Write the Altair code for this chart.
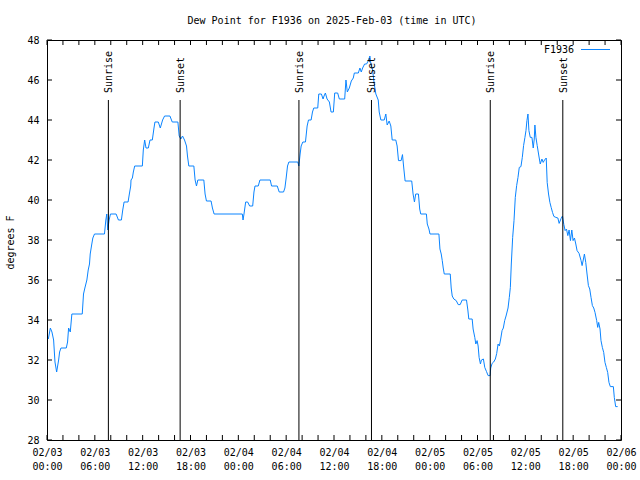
import altair as alt
import pandas as pd

# ---- data ----
hours = [0.17, 0.42, 0.62, 0.83, 1.0, 1.21, 1.46, 1.58, 1.75, 2.42, 2.58, 2.71, 2.92, 3.12, 4.42, 4.58, 4.75, 5.0, 5.17, 5.33,
         5.42, 5.62, 5.75, 5.96, 7.21, 7.38, 7.5, 7.62, 7.79, 7.96, 8.67, 8.96, 9.33, 9.5, 9.67, 10.17, 10.33, 10.5, 10.54, 10.71,
         10.83, 11.0, 11.96, 12.08, 12.25, 12.42, 12.71, 12.92, 13.21, 13.42, 13.54, 13.96, 14.21, 14.5, 14.75, 15.42, 15.71, 16.42, 16.58, 16.79,
         17.0, 17.25, 17.5, 17.62, 17.79, 18.42, 18.58, 18.75, 18.92, 19.67, 19.83, 20.0, 20.58, 20.75, 20.96,
         24.5, 24.59, 24.71, 24.92, 25.17, 25.42, 25.8, 25.96, 26.09, 26.5, 26.71, 28.0, 28.17, 28.88, 29.13, 29.67, 29.84, 30.0, 30.17, 30.34,
         31.46, 31.59, 31.75, 31.88, 32.09, 32.42, 32.63, 32.8, 33.13, 33.3, 33.46, 33.96, 34.09, 34.42, 34.63, 34.75, 34.92, 35.13, 35.42, 35.63,
         35.92, 36.09, 36.46, 36.67, 37.34, 37.5, 37.67, 37.92, 38.17, 38.42, 38.55, 39.05, 39.25, 39.42, 39.59, 39.84, 40.09, 40.34, 40.5, 40.63,
         40.84, 41.05, 41.25, 41.55, 41.67, 41.88, 42.3, 42.5, 42.67, 42.92, 43.13, 43.3, 43.75, 43.92, 44.09, 44.42, 44.59, 44.75, 44.92, 45.75,
         45.92, 46.09, 46.25, 46.59, 46.75, 46.88, 47.59,
         47.7, 47.91, 48.04, 49.16, 49.29, 49.45, 49.58, 49.7, 49.83, 50.58, 50.7, 50.83, 51.03, 51.33, 51.58, 51.83, 52.08, 52.62, 52.79, 52.91,
         53.33, 53.45, 53.66, 53.79, 53.95, 54.08, 54.2, 54.37, 54.49, 54.74, 54.91, 55.12, 55.33, 55.58, 55.66, 55.83, 56.03, 56.24, 56.41, 56.58,
         56.74, 56.91, 57.08, 57.24, 57.41, 57.58, 57.83, 57.99, 58.12, 58.24, 58.41, 58.58, 58.74, 58.91, 59.08, 59.24, 59.45, 59.62, 59.78, 59.95,
         60.08, 60.2, 60.33, 60.45, 60.62, 60.83, 60.99, 61.12, 61.2, 61.33, 61.49, 61.7, 61.87, 62.08, 62.24, 62.41, 62.62, 62.74, 62.91, 63.08,
         63.24, 63.41, 63.58, 63.83, 64.08, 64.24, 64.49, 64.66, 64.83, 64.99, 65.16, 65.33, 65.49, 65.66, 65.83, 65.99, 66.16, 66.33, 66.49, 66.74,
         66.99, 67.12, 67.29, 67.41, 67.58, 67.74, 67.91, 68.08, 68.24, 68.41, 68.58, 68.74, 68.95, 69.08, 69.2, 69.37, 69.49, 69.66, 69.83, 69.99,
         70.16, 70.33, 70.49, 70.66, 71.04, 71.16, 71.33, 71.58]
dewpoint = [33.05, 33.6, 33.4, 33.0, 31.9, 31.4, 32.0, 32.4, 32.6, 32.6, 32.9, 33.6, 33.4, 34.3, 34.3, 35.3, 35.6, 36.0, 36.5, 36.8,
            37.3, 37.8, 38.1, 38.3, 38.3, 39.0, 39.3, 38.5, 39.0, 39.3, 39.3, 39.0, 39.0, 39.5, 39.9, 39.9, 40.3, 40.7, 41.0, 41.1,
            41.4, 41.7, 41.7, 42.5, 43.0, 42.6, 42.6, 43.0, 43.0, 43.6, 43.9, 43.9, 43.6, 44.0, 44.2, 44.2, 43.9, 43.9, 43.2, 43.05,
            43.2, 43.0, 42.7, 42.2, 41.7, 41.7, 41.0, 40.7, 41.0, 41.0, 40.3, 39.95, 39.95, 39.6, 39.3,
            39.3, 39.0, 39.3, 39.9, 39.9, 39.7, 39.7, 40.4, 40.7, 40.7, 41.0, 41.0, 40.7, 40.7, 40.4, 40.4, 40.6, 41.1, 41.7, 41.9,
            41.9, 41.7, 42.3, 42.7, 42.9, 42.9, 43.7, 44.0, 44.0, 44.4, 44.6, 44.6, 45.3, 45.3, 45.05, 45.2, 45.35, 45.05, 44.9, 44.4,
            44.4, 45.35, 45.35, 45.05, 45.05, 46.0, 45.4, 45.6, 45.95, 46.1, 46.35, 46.35, 46.6, 46.4, 46.6, 46.8, 46.8, 47.0, 47.2, 46.8,
            46.5, 45.8, 45.3, 45.0, 44.4, 44.0, 44.0, 44.3, 43.75, 43.95, 43.7, 43.0, 43.0, 42.7, 41.97, 41.97, 42.27, 41.6, 40.95, 40.95,
            40.3, 39.9, 40.3, 40.3, 39.55, 39.3, 39.3,
            38.8, 38.55, 38.3, 38.3, 37.55, 37.3, 36.97, 36.6, 36.3, 36.3, 35.6, 35.2, 35.05, 34.97, 34.77, 34.77, 35.0, 35.0, 34.5, 34.05,
            34.05, 33.55, 33.13, 32.8, 32.97, 32.7, 32.13, 31.8, 32.0, 32.05, 31.63, 31.43, 31.22, 31.22, 31.6, 31.83, 31.9, 32.05, 32.33, 32.8,
            32.7, 33.05, 33.47, 33.6, 33.97, 34.2, 34.6, 35.13, 35.63, 36.8, 38.13, 38.97, 40.13, 40.72, 41.13, 41.63, 41.67, 42.13, 42.72, 43.13,
            43.47, 43.97, 44.3, 43.47, 43.13, 43.13, 42.6, 43.05, 43.75, 43.13, 42.72, 42.2, 41.8, 42.05, 41.88, 42.0, 42.1, 40.88, 40.3, 39.88,
            39.63, 39.38, 39.18, 39.13, 39.1, 38.83, 39.08, 39.2, 38.77, 38.47, 38.55, 38.22, 38.5, 37.97, 38.5, 37.97, 38.1, 37.8, 37.47, 37.33,
            36.97, 36.72, 37.05, 37.3, 36.88, 36.3, 35.72, 35.55, 35.13, 34.72, 34.6, 34.38, 33.97, 33.63, 33.88, 33.55, 32.97, 32.63, 32.38, 31.88,
            31.63, 31.38, 30.88, 30.67, 30.67, 30.13, 29.67, 29.67]

event_hours = [7.7, 16.7, 31.6, 40.7, 55.6, 64.7]
event_labels = ["Sunrise", "Sunset", "Sunrise", "Sunset", "Sunrise", "Sunset"]

x_tick_hours = [0, 6, 12, 18, 24, 30, 36, 42, 48, 54, 60, 66, 72]
x_tick_dates = ["02/03", "02/03", "02/03", "02/03", "02/04", "02/04", "02/04", "02/04",
                "02/05", "02/05", "02/05", "02/05", "02/06"]
x_tick_times = ["00:00", "06:00", "12:00", "18:00", "00:00", "06:00", "12:00", "18:00",
                "00:00", "06:00", "12:00", "18:00", "00:00"]
x_minor_hours = list(range(0, 73, 2))
y_ticks = [28, 30, 32, 34, 36, 38, 40, 42, 44, 46, 48]

series_name = "F1936"
title_text = "Dew Point for F1936 on 2025-Feb-03 (time in UTC)"
y_title = "degrees F"

# ---- styling ----
FONT = "DejaVu Sans Mono"
LINE_COLOR = "#0a84ff"
W, H = 574, 400
TICK = 5

df = pd.DataFrame({"h": hours, "v": dewpoint})
events = pd.DataFrame({"h": event_hours, "label": event_labels})
xticks = pd.DataFrame({"h": x_minor_hours})
yticks = pd.DataFrame({"v": y_ticks})

label_map = "{" + ",".join(
    f"'{h}':['{d}','{t}']" for h, d, t in zip(x_tick_hours, x_tick_dates, x_tick_times)
) + "}"

xscale = alt.Scale(domain=[0, 72], nice=False, zero=False)
yscale = alt.Scale(domain=[28, 48], nice=False, zero=False)

xaxis = alt.Axis(values=x_tick_hours, labelExpr=f"{label_map}[''+datum.value]", title=None,
                 grid=False, domain=False, ticks=False, labelFont=FONT, labelFontSize=10,
                 labelColor="black", labelPadding=7, labelBaseline="top", labelLineHeight=14,
                 labelAngle=0, labelOverlap=False, labelFlush=False, labelBound=False)
yaxis = alt.Axis(values=y_ticks, title=y_title, grid=False, domain=False, ticks=False,
                 labelFont=FONT, labelFontSize=10, labelColor="black", labelPadding=8,
                 labelOverlap=False, labelFlush=False, labelBound=False,
                 titleFont=FONT, titleFontSize=10, titleFontWeight="normal", titleColor="black",
                 titleAngle=270, titleX=-37, titleY=202, titleAlign="center", titleBaseline="middle")

X = lambda f: alt.X(f, scale=xscale, axis=xaxis)
Y = lambda f: alt.Y(f, scale=yscale, axis=yaxis)

line = alt.Chart(df).mark_line(color=LINE_COLOR, strokeWidth=1).encode(
    x=X("h:Q"), y=Y("v:Q"),
)

ev_rule = alt.Chart(events).mark_rule(color="black", strokeWidth=1).encode(
    x=X("h:Q"), y=alt.YDatum(45.0, scale=yscale, axis=yaxis), y2=alt.datum(28)
)
ev_text = alt.Chart(events).mark_text(angle=270, align="left", baseline="middle",
                                      font=FONT, fontSize=10, color="black", dy=1).encode(
    x=X("h:Q"), y=alt.YDatum(45.35, scale=yscale, axis=yaxis), text="label:N"
)

bottom_ticks = alt.Chart(xticks).mark_rule(color="black").encode(
    x=X("h:Q"), y=alt.value(H), y2=alt.value(H - TICK))
top_ticks = alt.Chart(xticks).mark_rule(color="black").encode(
    x=X("h:Q"), y=alt.value(0), y2=alt.value(TICK))
left_ticks = alt.Chart(yticks).mark_rule(color="black").encode(
    y=Y("v:Q"), x=alt.value(0), x2=alt.value(TICK))
right_ticks = alt.Chart(yticks).mark_rule(color="black").encode(
    y=Y("v:Q"), x=alt.value(W), x2=alt.value(W - TICK))

legend_df = pd.DataFrame({"label": [series_name]})
legend_text = alt.Chart(legend_df).mark_text(align="right", baseline="middle", font=FONT,
                                             fontSize=10, color="black").encode(
    x=alt.value(527), y=alt.value(9.5), text="label:N")
legend_line = alt.Chart(legend_df).mark_rule(color=LINE_COLOR, strokeWidth=1).encode(
    x=alt.value(534), x2=alt.value(563), y=alt.value(9.5))

chart = alt.layer(
    line, ev_rule, ev_text, bottom_ticks, top_ticks, left_ticks, right_ticks, legend_text, legend_line
).properties(
    width=W, height=H,
    title=alt.TitleParams(title_text, font=FONT, fontSize=10, fontWeight="normal", color="black",
                          anchor="middle", baseline="alphabetic", offset=1, dx=-2),
    autosize=alt.AutoSizeParams(type="none"),
    padding={"left": 47, "top": 40, "right": 19, "bottom": 40},
    background="white",
).configure_view(stroke="black", strokeWidth=1).configure_axis(labelOverlap=False)

chart.save("out.html", embed_options={"renderer": "svg", "actions": False})
